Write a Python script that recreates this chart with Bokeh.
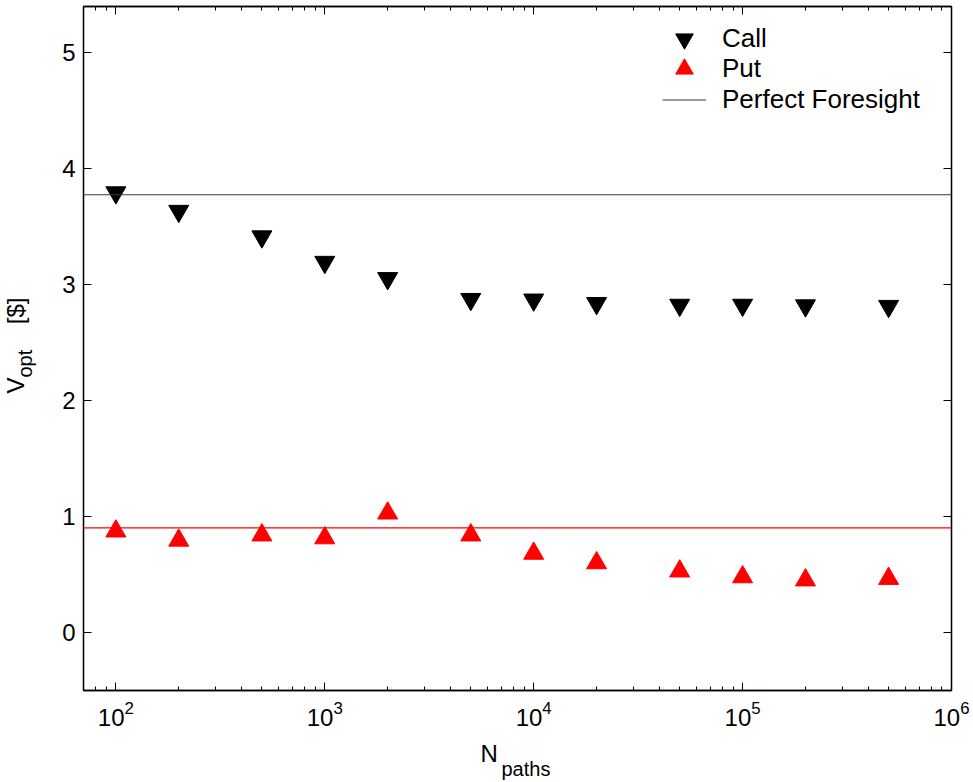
import math
from bokeh.plotting import figure
from bokeh.models import (Span, Label, Legend, LegendItem, LinearAxis, LogAxis,
                          SingleIntervalTicker, LogTicker, Range1d)
from bokeh.embed import file_html
from bokeh.resources import INLINE

# ---- data ----
n_paths = [1e2, 2e2, 5e2, 1e3, 2e3, 5e3, 1e4, 2e4, 5e4, 1e5, 2e5, 5e5]
call_values = [3.795, 3.635, 3.415, 3.195, 3.055, 2.875, 2.870, 2.840, 2.825, 2.825, 2.820, 2.815]
put_values = [0.874, 0.795, 0.840, 0.815, 1.029, 0.840, 0.682, 0.600, 0.529, 0.479, 0.452, 0.465]
call_perfect_foresight = 3.776
put_perfect_foresight = 0.902
x_limits = [70, 1e6]
y_limits = [-0.5, 5.4]
legend_labels = ["Call", "Put", "Perfect Foresight"]

FONT = "Liberation Sans"
W, H = 973, 782
BL, BR, BT, BB = 83, 22, 6, 92   # borders around the frame

p = figure(width=W, height=H, x_axis_type="log",
           x_range=Range1d(*x_limits), y_range=Range1d(*y_limits),
           output_backend="svg", toolbar_location=None,
           min_border_left=BL, min_border_right=BR, min_border_top=BT, min_border_bottom=BB)
p.grid.visible = False
p.outline_line_color = "black"
p.outline_line_width = 1.3
p.background_fill_color = "white"
p.border_fill_color = "white"


def style_axis(ax, show_labels=True):
    ax.axis_line_color = "black"
    ax.axis_line_width = 1.3
    ax.major_tick_in = 8
    ax.major_tick_out = 0
    ax.minor_tick_in = 4
    ax.minor_tick_out = 0
    ax.major_tick_line_color = "black"
    ax.minor_tick_line_color = "black"
    ax.major_tick_line_width = 1
    ax.minor_tick_line_width = 1
    ax.major_label_text_font = FONT
    ax.major_label_text_color = "black"
    if show_labels:
        ax.major_label_text_font_size = "24px"
    else:
        ax.major_label_text_font_size = "1px"
        ax.major_label_text_alpha = 0
        ax.major_label_standoff = 0


# bottom log axis
xax = p.xaxis[0]
xax.ticker = LogTicker(num_minor_ticks=10)
style_axis(xax)
xax.major_label_standoff = 10

# left linear axis
yax = p.yaxis[0]
yax.ticker = SingleIntervalTicker(interval=1, num_minor_ticks=0)
style_axis(yax)
yax.minor_tick_line_color = None
yax.major_label_standoff = 8

# mirrored axes
top = LogAxis(ticker=LogTicker(num_minor_ticks=10))
style_axis(top, show_labels=False)
p.add_layout(top, "above")
right = LinearAxis(ticker=SingleIntervalTicker(interval=1, num_minor_ticks=0))
style_axis(right, show_labels=False)
right.minor_tick_line_color = None
p.add_layout(right, "right")

# perfect foresight lines
p.add_layout(Span(location=call_perfect_foresight, dimension="width",
                  line_color="#3a3a3a", line_width=1.2))
p.add_layout(Span(location=put_perfect_foresight, dimension="width",
                  line_color="#ff0000", line_width=1.2))

r_call = p.scatter(n_paths, call_values, marker="inverted_triangle", size=20,
                   fill_color="black", line_color="black")
r_put = p.scatter(n_paths, put_values, marker="triangle", size=20,
                  fill_color="#ff0000", line_color="#ff0000")
# legend proxy for the perfect-foresight line (single point draws nothing)
r_pf = p.line(x=[n_paths[0]], y=[call_perfect_foresight], line_color="#3a3a3a", line_width=1.2)

# one legend per row so the rows can sit closer than the glyph box
row_bottoms = [629, 599, 568]
for lbl, rend, vy in zip(legend_labels, [r_call, r_put, r_pf], row_bottoms):
    lg = Legend(items=[LegendItem(label=lbl, renderers=[rend])],
                location=(579, vy), orientation="vertical",
                border_line_color=None, background_fill_alpha=0,
                glyph_width=44, glyph_height=45, spacing=0,
                label_standoff=16, label_text_font=FONT, label_text_font_size="26px",
                label_text_color="black", padding=0, margin=0)
    p.add_layout(lg, "center")


# axis titles built from pieces (subscripts), placed in the side panels
def add_text(side, x, y, text, size, angle=0.0):
    p.add_layout(Label(x=x, y=y, x_units="screen", y_units="screen", text=text,
                       text_font=FONT, text_font_size=size, text_color="black",
                       text_align="left", text_baseline="alphabetic", angle=angle), side)


NB = "\u00a0"
add_text("below", 397, 2, "N", "24px")
add_text("below", 418, 9, "paths", "20px")
add_text("left", -17, 297, "V" + NB * 8 + "[$]", "24px", math.pi / 2)
add_text("left", 14, 313, "opt", "20px", math.pi / 2)

open("out.html", "w").write(file_html(p, INLINE))
